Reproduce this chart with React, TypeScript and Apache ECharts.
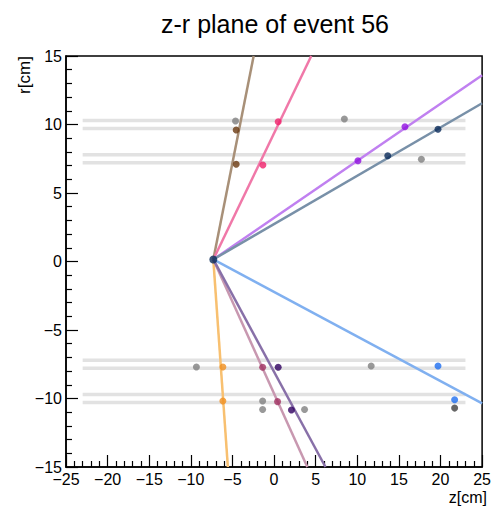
import React, { useEffect, useRef } from "react";
import * as echarts from "echarts";

const titleText = "z-r plane of event 56";
const xName = "z[cm]";
const yName = "r[cm]";

const vertex: [number, number] = [-7.3, 0.15];

// detector layer bands (r values), spanning z from -23 to 23
const layerR = [10.3, 9.7, 7.8, 7.2, -7.2, -7.8, -9.7, -10.3];
const layerZ = [-23, 23];

// track end points (where they leave the frame)
const trackNames = ["brown", "pink", "violet", "slate", "lightblue", "orange", "mauve", "purple"];
const trackEnds: [number, number][] = [
  [-2.45, 15],
  [4.47, 15],
  [25, 13.6],
  [25, 11.55],
  [25, -10.35],
  [-5.55, -15],
  [4.0, -15],
  [6.18, -15],
];
const trackColors = ["#a89078", "#f078a8", "#c080f0", "#7890a8", "#80b0f0", "#f8c070", "#c898b0", "#8870a8"];

// hits attached to tracks
const trackHits: [number, number][][] = [
  [[-4.55, 9.6], [-4.55, 7.1]],
  [[0.5, 10.2], [-1.34, 7.04]],
  [[15.73, 9.84], [10.08, 7.36]],
  [[19.7, 9.65], [13.66, 7.72]],
  [[19.7, -7.63], [21.7, -10.09]],
  [[-6.15, -7.7], [-6.15, -10.18]],
  [[-1.37, -7.72], [0.42, -10.23]],
  [[0.5, -7.72], [2.09, -10.84]],
];
const hitColors = ["#6b3a10", "#f0206a", "#9010e0", "#0a2a5a", "#1e6ef0", "#f09020", "#a03060", "#300060"];

// unassigned hits
const grayHits: [number, number][] = [
  [-4.63, 10.26], [8.45, 10.4], [17.7, 7.46], [-9.33, -7.7],
  [11.67, -7.63], [-1.37, -10.18], [-1.37, -10.8], [3.67, -10.8],
];
const darkGrayHits: [number, number][] = [[21.7, -10.7]];

const xTicks = { min: -25, max: 25, interval: 5 };
const yTicks = { min: -15, max: 15, interval: 5 };

const FONT = "'Liberation Sans', Arial, Helvetica, sans-serif";

const fmt = (v: number) => (v < 0 ? "\u2212" + Math.abs(v) : String(v));

export default function App() {
  const ref = useRef<HTMLDivElement>(null);
  useEffect(() => {
    if (!ref.current) return;
    const chart = echarts.init(ref.current, undefined, { renderer: "svg" });
    const series: any[] = [];
    layerR.forEach((r) => {
      series.push({
        type: "line",
        data: [[layerZ[0], r], [layerZ[1], r]],
        symbol: "none",
        lineStyle: { color: "#e2e2e2", width: 3.5 },
        silent: true,
        z: 1,
      });
    });
    trackEnds.forEach((e, i) => {
      series.push({
        name: trackNames[i],
        type: "line",
        data: [vertex, e],
        symbol: "none",
        lineStyle: { color: trackColors[i], width: 2.5 },
        z: 2,
      });
    });
    series.push({
      type: "scatter",
      data: grayHits,
      symbolSize: 7,
      itemStyle: { color: "#808080" },
      z: 3,
    });
    series.push({
      type: "scatter",
      data: darkGrayHits,
      symbolSize: 7,
      itemStyle: { color: "#404040" },
      z: 3,
    });
    trackHits.forEach((h, i) => {
      series.push({
        type: "scatter",
        data: h,
        symbolSize: 7,
        itemStyle: { color: hitColors[i] },
        z: 4,
      });
    });
    series.push({
      type: "scatter",
      data: [vertex],
      symbolSize: 8,
      itemStyle: { color: "#0a2a5a" },
      z: 5,
    });

    const axisCommon = {
      type: "value",
      axisLine: { show: true, onZero: false, lineStyle: { color: "#000", width: 1.5 } },
      axisTick: { show: true, inside: true, length: 12, lineStyle: { color: "#000", width: 1.2 } },
      minorTick: { show: true, splitNumber: 5, length: 6, lineStyle: { color: "#000", width: 1.2 } },
      splitLine: { show: false },
      minorSplitLine: { show: false },
      axisLabel: { color: "#000", fontSize: 16, fontFamily: FONT, formatter: fmt },
    };

    chart.setOption({
      animation: false,
      grid: {
        left: 66,
        right: 8,
        top: 56,
        bottom: 39,
        show: true,
        borderColor: "#000",
        borderWidth: 1.5,
        backgroundColor: "transparent",
      },
      xAxis: {
        ...axisCommon,
        min: xTicks.min,
        max: xTicks.max,
        interval: xTicks.interval,
        axisLabel: { ...axisCommon.axisLabel, margin: 4 },
      },
      yAxis: {
        ...axisCommon,
        min: yTicks.min,
        max: yTicks.max,
        interval: yTicks.interval,
        axisLabel: { ...axisCommon.axisLabel, margin: 4 },
      },
      graphic: [
        {
          type: "text",
          x: 275,
          y: 24,
          style: {
            text: titleText,
            fontSize: 25,
            fontFamily: FONT,
            fill: "#000",
            textAlign: "center",
            textVerticalAlign: "middle",
          },
        },
        {
          type: "text",
          x: 487,
          y: 497,
          style: {
            text: xName,
            fontSize: 16,
            fontFamily: FONT,
            fill: "#000",
            textAlign: "right",
            textVerticalAlign: "middle",
          },
        },
        {
          type: "text",
          x: 24,
          y: 75,
          rotation: Math.PI / 2,
          style: {
            text: yName,
            fontSize: 17,
            fontFamily: FONT,
            fill: "#000",
            textAlign: "center",
            textVerticalAlign: "middle",
          },
        },
      ],
      series,
    });
    return () => chart.dispose();
  }, []);
  return <div ref={ref} style={{ width: 494, height: 506, position: "absolute", left: 0, top: 0 }} />;
}
